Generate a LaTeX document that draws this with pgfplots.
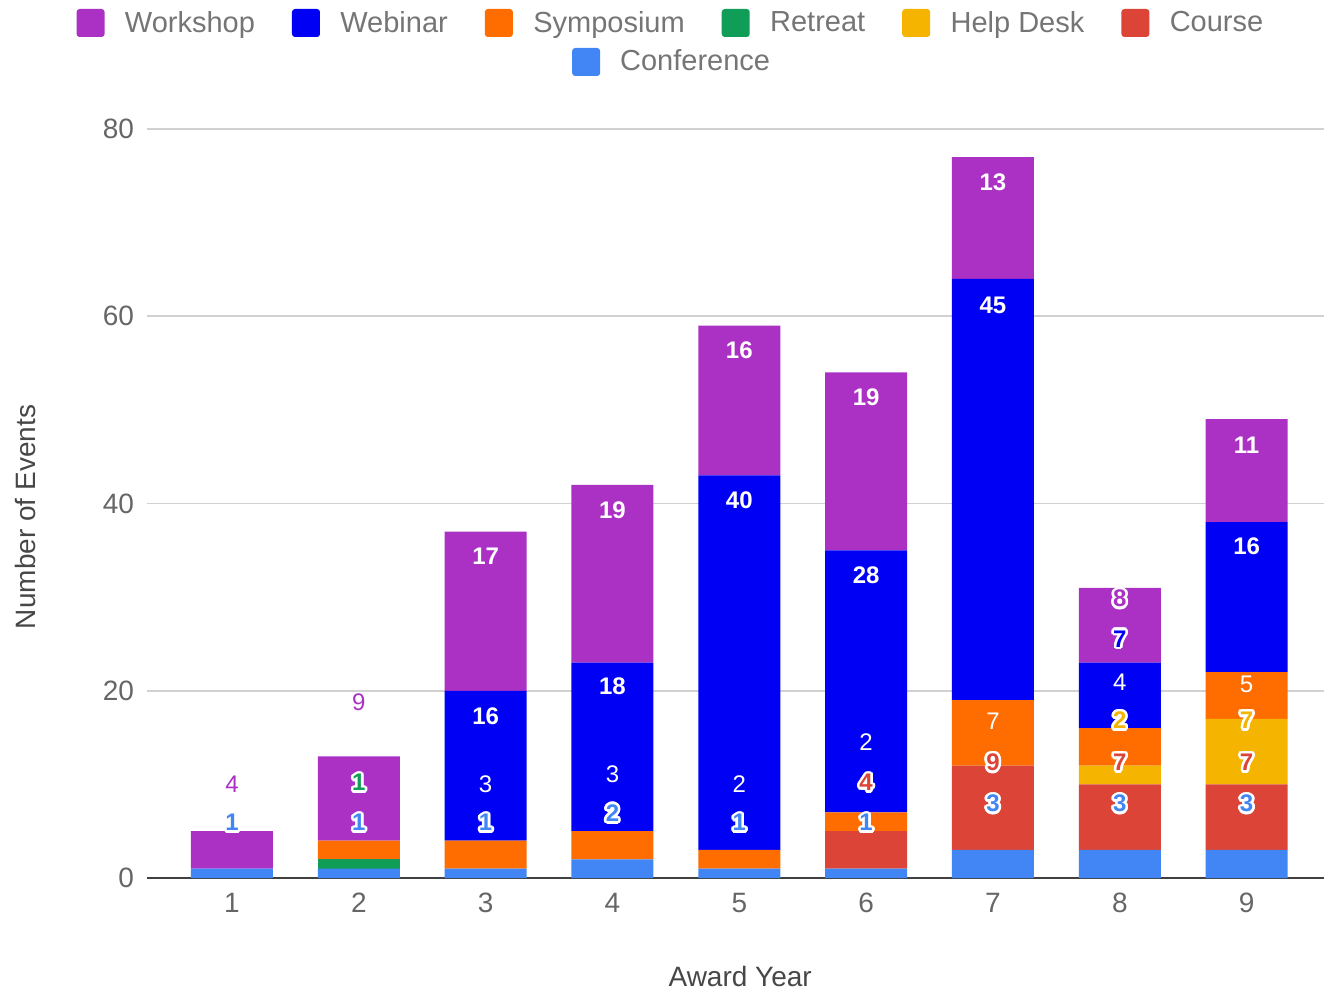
\documentclass[border=0pt]{standalone}
\usepackage{fontspec}
\setmainfont{Liberation Sans}
\usepackage{pgfplots}
\pgfplotsset{compat=1.18}
\usepackage[copies]{contour}
\contourlength{1.3pt}
\contournumber{16}
\definecolor{workshop}{HTML}{AB30C4}
\definecolor{webinar}{HTML}{0000F5}
\definecolor{symposium}{HTML}{FF6D00}
\definecolor{retreat}{HTML}{0F9D58}
\definecolor{helpdesk}{HTML}{F4B400}
\definecolor{course}{HTML}{DB4437}
\definecolor{conference}{HTML}{4285F4}
\definecolor{tickgray}{HTML}{666666}
\definecolor{leggray}{HTML}{757575}
\begin{document}
\begin{tikzpicture}
\useasboundingbox (-73.5pt,-57pt) rectangle (588.5pt,439pt);
\pgfplotsset{
  base/.style={scale only axis, width=588.5pt, height=374.5pt,
    xmin=0.33, xmax=9.61, ymin=0, ymax=80, at={(0,0)}, anchor=south west},
  lbl/.style={only marks, mark=none, forget plot, point meta=explicit symbolic,
    nodes near coords,
    every node near coord/.append style={anchor=center, inner sep=0pt, font=\fontsize{12}{14}\selectfont #1}},
  halo/.style={lbl=\bfseries, nodes near coords={\contour{white}{\pgfplotspointmeta}},
    every node near coord/.append style={text=#1}},
  legsq/.style={legend image code/.code={\fill[##1, draw=none, rounded corners=1.5pt] (0pt,-7pt) rectangle (14pt,7pt); \path (22pt,0pt);}},
  legfont/.style={font=\fontsize{14.5}{17}\selectfont, text=leggray},
}
\begin{axis}[base, ybar stacked, bar width=41pt,
  axis line style={draw=none},
  ytick={0,20,40,60,80}, xtick={1,2,3,4,5,6,7,8,9},
  major tick length=0pt,
  ymajorgrids, grid style={color=black!18, line width=0.9pt},
  extra y ticks={0}, extra y tick labels={},
  extra y tick style={grid style={color=black!75, line width=1.3pt}},
  /pgf/number format/assume math mode=true,
  tick label style={font=\fontsize{14}{16}\selectfont, text=tickgray},
  yticklabel style={xshift=-3pt},
  xticklabel style={yshift=-4pt},
  xlabel={Award Year}, ylabel={Number of Events},
  every axis x label/.style={at={(axis description cs:0.504,0)}, yshift=-49pt, anchor=center,
    font=\fontsize{14}{16}\selectfont, text=black!72},
  every axis y label/.style={at={(axis description cs:0,0.482)}, xshift=-61pt, rotate=90, anchor=center,
    font=\fontsize{14}{16}\selectfont, text=black!72},
  legsq,
  legend style={at={(0.447,1)}, anchor=center, yshift=33.5pt, draw=none, fill=none, legfont},
]
\addplot[fill=conference, draw=none] coordinates {(1,1)(2,1)(3,1)(4,2)(5,1)(6,1)(7,3)(8,3)(9,3)};
\addlegendentry{Conference}
\addplot[fill=course, draw=none] coordinates {(1,0)(2,0)(3,0)(4,0)(5,0)(6,4)(7,9)(8,7)(9,7)};
\addplot[fill=helpdesk, draw=none] coordinates {(1,0)(2,0)(3,0)(4,0)(5,0)(6,0)(7,0)(8,2)(9,7)};
\addplot[fill=retreat, draw=none] coordinates {(1,0)(2,1)(3,0)(4,0)(5,0)(6,0)(7,0)(8,0)(9,0)};
\addplot[fill=symposium, draw=none] coordinates {(1,0)(2,2)(3,3)(4,3)(5,2)(6,2)(7,7)(8,4)(9,5)};
\addplot[fill=webinar, draw=none] coordinates {(1,0)(2,0)(3,16)(4,18)(5,40)(6,28)(7,45)(8,7)(9,16)};
\addplot[fill=workshop, draw=none] coordinates {(1,4)(2,9)(3,17)(4,19)(5,16)(6,19)(7,13)(8,8)(9,11)};
\end{axis}
\begin{axis}[base, hide axis, legsq,
  legend columns=6,
  legend style={at={(0.446,1)}, anchor=center, yshift=53pt, draw=none, fill=none, legfont,
    /tikz/every even column/.append style={column sep=16.5pt}},
]
% white bold labels
\addplot[lbl=\bfseries, every node near coord/.append style={text=white}] table[meta=l] {
x y l
3 17.3 16
3 34.4 17
4 20.5 18
4 39.3 19
5 40.4 40
5 56.4 16
6 32.3 28
6 51.4 19
7 61.2 45
7 74.3 13
9 35.4 16
9 46.2 11
};
% white regular labels
\addplot[lbl=, every node near coord/.append style={text=white}] table[meta=l] {
x y l
3 10.04 3
4 11.1 3
5 10.04 2
6 14.5 2
7 16.7 7
8 20.9 4
9 20.7 5
};
% purple plain labels above bars
\addplot[lbl=, every node near coord/.append style={text=workshop}] table[meta=l] {
x y l
1 10.04 4
2 18.8 9
};
\addplot[halo=conference] table[meta=l] {
x y l
1 5.77 1
2 5.77 1
3 5.77 1
4 6.8 2
5 5.77 1
6 5.77 1
7 7.8 3
8 7.8 3
9 7.8 3
};
\addplot[halo=course] table[meta=l] {
x y l
6 10.04 4
7 12.2 9
8 12.2 7
9 12.2 7
};
\addplot[halo=helpdesk] table[meta=l] {
x y l
8 16.7 2
9 16.7 7
};
\addplot[halo=retreat] table[meta=l] {
x y l
2 10.04 1
};
\addplot[halo=webinar] table[meta=l] {
x y l
8 25.4 7
};
\addplot[halo=workshop] table[meta=l] {
x y l
8 29.7 8
};
\addlegendimage{fill=workshop}\addlegendentry{Workshop}
\addlegendimage{fill=webinar}\addlegendentry{Webinar}
\addlegendimage{fill=symposium}\addlegendentry{Symposium}
\addlegendimage{fill=retreat}\addlegendentry{Retreat}
\addlegendimage{fill=helpdesk}\addlegendentry{Help Desk}
\addlegendimage{fill=course}\addlegendentry{Course}
\end{axis}
\end{tikzpicture}
\end{document}
